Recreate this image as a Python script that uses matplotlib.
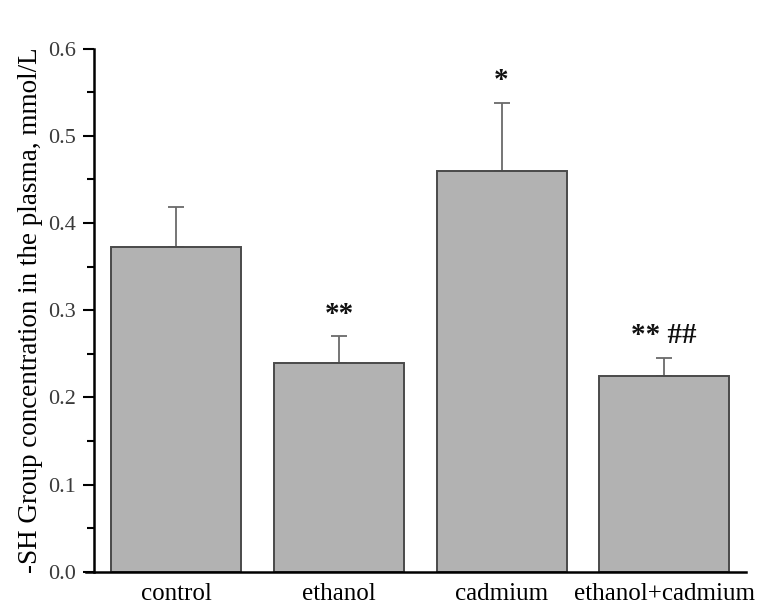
import matplotlib
matplotlib.use("Agg")
import matplotlib.pyplot as plt
from matplotlib.ticker import MultipleLocator

groups = ["control", "ethanol", "cadmium", "ethanol+cadmium"]
means = [0.372, 0.239, 0.460, 0.225]
errors = [0.046, 0.031, 0.078, 0.020]
marks = ["", "**", "*", "** ##"]

plt.rcParams["font.family"] = ["Liberation Serif", "DejaVu Serif"]

fig = plt.figure(figsize=(7.6, 6.07), dpi=100)
ax = fig.add_axes([0.124, 0.058, 0.858, 0.862])

x = list(range(len(groups)))
ax.bar(x, means, width=0.8, color="#b2b2b2", edgecolor="#4a4a4a", linewidth=1.4, zorder=2)
ax.errorbar(x, means, yerr=[[0] * len(errors), errors], fmt="none",
            ecolor="#6a6a6a", elinewidth=1.3, capsize=6, capthick=1.3, zorder=1)

# significance marks above the error bars
for xi, m, e, s in zip(x, means, errors, marks):
    if s:
        ax.text(xi, m + e + 0.01, s, ha="center", va="bottom",
                fontsize=21, fontweight="bold", color="#111111")

ax.set_xlim(-0.505, 3.505)
ax.set_ylim(0, 0.6)
ax.yaxis.set_major_locator(MultipleLocator(0.1))
ax.yaxis.set_minor_locator(MultipleLocator(0.05))
ax.set_yticklabels([f"{v:.1f}" for v in ax.get_yticks()])
ax.set_xticks(x)
ax.set_xticklabels(groups, fontsize=18)
ax.tick_params(axis="x", length=0, pad=8)
ax.tick_params(axis="y", which="major", length=8, width=1.5, labelsize=16,
               labelcolor="#3a3a3a", pad=5)
ax.tick_params(axis="y", which="minor", length=5, width=1.5)

ax.spines["top"].set_visible(False)
ax.spines["right"].set_visible(False)
ax.spines["left"].set_linewidth(1.8)
ax.spines["bottom"].set_linewidth(1.8)
ax.spines["bottom"].set_bounds(-0.555, 3.505)

ax.set_ylabel("-SH Group concentration in the plasma, mmol/L", fontsize=19.5, labelpad=4)

fig.savefig("out.png", dpi=100)
